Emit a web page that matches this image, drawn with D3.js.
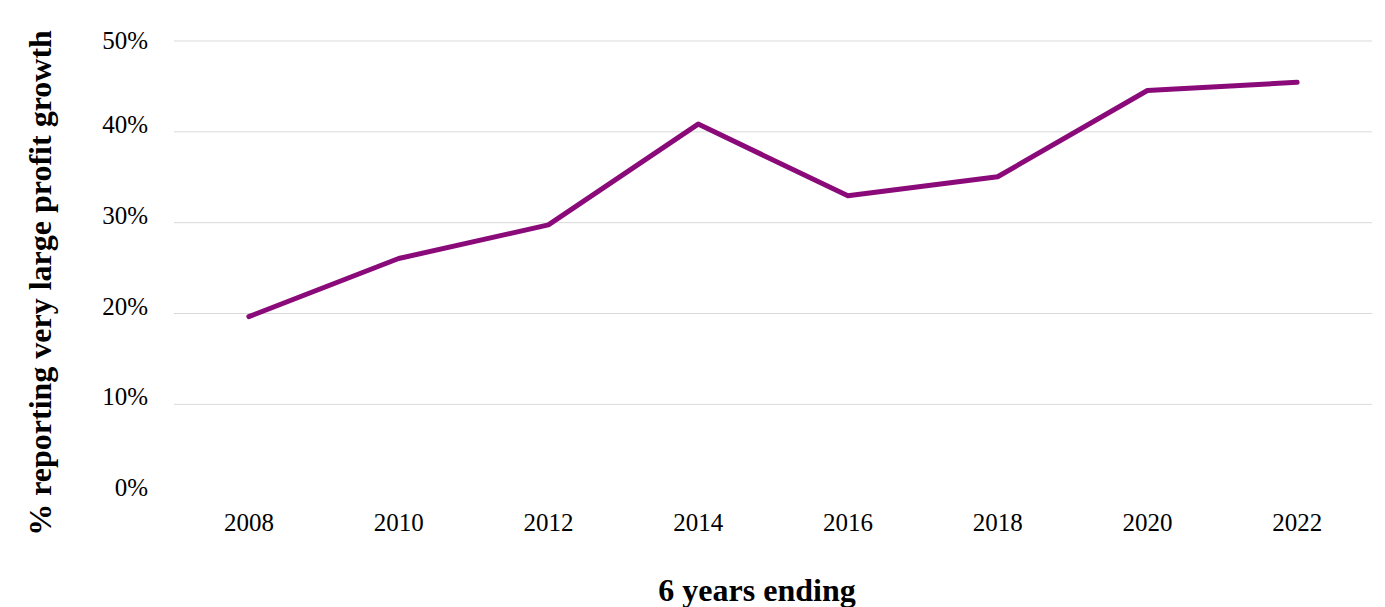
<!DOCTYPE html>
<html>
<head>
<meta charset="utf-8">
<script src="https://cdnjs.cloudflare.com/ajax/libs/d3/7.8.5/d3.min.js"></script>
<style>
  body { margin: 0; background: #fff; }
  svg text { font-family: "Liberation Serif", "Times New Roman", serif; fill: #000; }
</style>
</head>
<body>
<svg></svg>
<script>
var years = ['2008', '2010', '2012', '2014', '2016', '2018', '2020', '2022'];
var shares = [19.6, 26.0, 29.7, 40.8, 32.9, 35.0, 44.5, 45.4];
var yTicks = [0, 10, 20, 30, 40, 50];

var width = 1385, height = 607;
var plotLeft = 174, plotRight = 1372, plotTop = 40.5, plotBottom = 494.7;

var svg = d3.select('svg').attr('width', width).attr('height', height);

var x = d3.scaleBand().domain(years).range([plotLeft, plotRight]);
var y = d3.scaleLinear().domain([0, 50]).range([plotBottom, plotTop]);

// gridlines + y labels
var yAxis = svg.append('g')
  .attr('transform', 'translate(' + plotLeft + ',0)')
  .call(d3.axisLeft(y).tickValues(yTicks).tickSize(-(plotRight - plotLeft)).tickPadding(26)
    .tickFormat(function (d) { return d + '%'; }));
yAxis.select('.domain').remove();
yAxis.selectAll('.tick line').attr('stroke', '#d9d9d9').attr('stroke-width', 1)
  .filter(function (d) { return d === 0; }).remove();
yAxis.selectAll('.tick text').attr('font-size', 25).attr('y', function (d) { return d === 50 ? 0 : -7; });

// x labels
var xAxis = svg.append('g')
  .attr('transform', 'translate(0,' + plotBottom + ')')
  .call(d3.axisBottom(x).tickSize(0).tickPadding(19));
xAxis.select('.domain').remove();
xAxis.selectAll('.tick text').attr('font-size', 25);

// the line
var line = d3.line()
  .x(function (d, i) { return x(years[i]) + x.bandwidth() / 2; })
  .y(function (d) { return y(d); });

svg.append('path')
  .datum(shares)
  .attr('d', line)
  .attr('fill', 'none')
  .attr('stroke', '#8b0a79')
  .attr('stroke-width', 5)
  .attr('stroke-linejoin', 'round')
  .attr('stroke-linecap', 'round');

// axis titles
svg.append('text')
  .attr('x', 757).attr('y', 601)
  .attr('text-anchor', 'middle')
  .attr('font-size', 32).attr('font-weight', 'bold')
  .text('6 years ending');

svg.append('text')
  .attr('transform', 'translate(51,283) rotate(-90)')
  .attr('text-anchor', 'middle')
  .attr('font-size', 32).attr('font-weight', 'bold')
  .text('% reporting very large profit growth');
</script>
</body>
</html>
